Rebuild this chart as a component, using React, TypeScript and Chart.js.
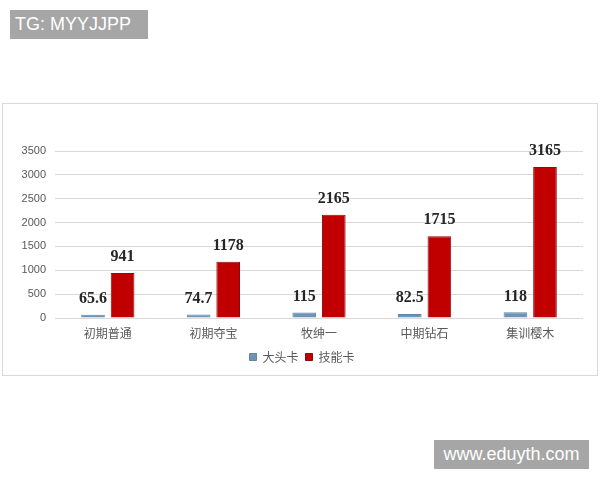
import React, { useEffect, useRef } from "react";
import { Chart, registerables } from "chart.js";

Chart.register(...registerables);

const categories = ["初期普通", "初期夺宝", "牧绅一", "中期钻石", "集训樱木"];
const seriesNames = ["大头卡", "技能卡"];
const bigHeadValues = [65.6, 74.7, 115, 82.5, 118];
const skillValues = [941, 1178, 2165, 1715, 3165];
const yTicks = [0, 500, 1000, 1500, 2000, 2500, 3000, 3500];

const labelPlugin = {
  id: "valueLabels",
  afterLayout(chart: any) {
    if (chart.legend) {
      chart.legend.left += 9;
      chart.legend.right += 9;
    }
  },
  afterDatasetsDraw(chart: any) {
    const ctx = chart.ctx;
    ctx.save();
    ctx.font = 'bold 16px "Liberation Serif", "DejaVu Serif", serif';
    ctx.fillStyle = "#262626";
    ctx.textAlign = "center";
    ctx.textBaseline = "bottom";
    chart.data.datasets.forEach((ds: any, di: number) => {
      const meta = chart.getDatasetMeta(di);
      meta.data.forEach((el: any, i: number) => {
        ctx.fillText(String(ds.data[i]), el.x, el.y - 8);
      });
    });
    ctx.restore();
  },
};

export default function App() {
  const ref = useRef<HTMLCanvasElement | null>(null);
  useEffect(() => {
    if (!ref.current) return;
    const chart = new Chart(ref.current, {
      type: "bar",
      data: {
        labels: categories,
        datasets: [
          {
            label: seriesNames[0],
            data: bigHeadValues,
            backgroundColor: "#6F93B5",
            borderColor: "#5F86A8",
            borderWidth: 1,
            categoryPercentage: 0.56,
            barPercentage: 0.8,
          },
          {
            label: seriesNames[1],
            data: skillValues,
            backgroundColor: "#C00000",
            borderColor: "#8E0A0A",
            borderWidth: 1,
            categoryPercentage: 0.56,
            barPercentage: 0.8,
          },
        ],
      },
      options: {
        animation: false,
        responsive: false,
        devicePixelRatio: 1,
        layout: { padding: { top: 47, right: 14, left: 0, bottom: 2 } },
        plugins: {
          tooltip: { enabled: false },
          legend: {
            position: "bottom",
            labels: {
              boxWidth: 7,
              boxHeight: 7,
              padding: 7,
              color: "#595959",
              font: { size: 12, family: '"Noto Sans CJK SC", sans-serif' },
            },
          },
        },
        scales: {
          x: {
            grid: { display: false, drawTicks: false },
            border: { display: false },
            ticks: {
              color: "#595959",
              padding: 8,
              font: { size: 12, family: '"Noto Sans CJK SC", sans-serif' },
            },
            afterFit: (s: any) => {
              s.height = 26;
            },
          },
          y: {
            min: 0,
            max: 3500,
            afterBuildTicks: (s: any) => {
              s.ticks = yTicks.map((v) => ({ value: v }));
            },
            grid: { color: "#d9d9d9", drawTicks: false, lineWidth: 1 },
            border: { display: false },
            ticks: {
              color: "#595959",
              padding: 9,
              callback: (v: any) => String(v),
              font: { size: 11, family: '"Liberation Sans", "Noto Sans", sans-serif' },
            },
            afterFit: (s: any) => {
              s.width = 52;
            },
          },
        },
      },
      plugins: [labelPlugin],
    });
    return () => chart.destroy();
  }, []);

  return (
    <div style={{ position: "fixed", left: 0, top: 0, width: 600, height: 480, background: "#fff", overflow: "hidden" }}>
      <div
        style={{
          position: "absolute",
          left: 10,
          top: 10,
          width: 138,
          height: 29,
          background: "#a6a6a6",
          color: "#fff",
          font: '18px "Liberation Sans", Arial, sans-serif',
          lineHeight: "29px",
          paddingLeft: 5,
          boxSizing: "border-box",
        }}
      >
        TG: MYYJJPP
      </div>
      <div
        style={{
          position: "absolute",
          left: 2,
          top: 103,
          width: 596,
          height: 273,
          border: "1px solid #d9d9d9",
          boxSizing: "border-box",
        }}
      >
        <canvas ref={ref} width={594} height={271} style={{ display: "block", width: 594, height: 271 }} />
      </div>
      <div
        style={{
          position: "absolute",
          left: 434,
          top: 440,
          width: 155,
          height: 29,
          background: "#a6a6a6",
          color: "#fff",
          font: '18px "Liberation Sans", Arial, sans-serif',
          lineHeight: "29px",
          textAlign: "center",
        }}
      >
        www.eduyth.com
      </div>
    </div>
  );
}
